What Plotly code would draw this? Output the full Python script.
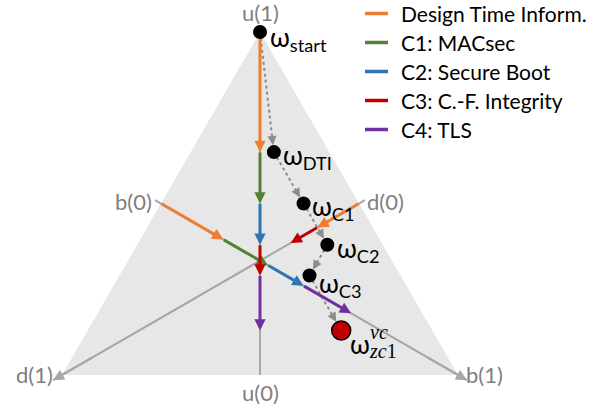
import math
import plotly.graph_objects as go

# ---------------- data ----------------
stages = ["start", "DTI", "C1", "C2", "C3", "zc1"]
belief = [0.00, 0.21, 0.36, 0.48, 0.48, 0.64]
disbelief = [0.00, 0.14, 0.14, 0.14, 0.23, 0.23]
uncertainty = [1.00, 0.65, 0.50, 0.38, 0.29, 0.13]

series_names = ["Design Time Inform.", "C1: MACsec", "C2: Secure Boot",
                "C3: C.-F. Integrity", "C4: TLS"]
series_colors = ["#ED7D31", "#548235", "#2E75B6", "#C00000", "#7030A0"]

point_labels = ["ω<sub>start</sub>", "ω<sub>DTI</sub>", "ω<sub>C1</sub>",
                "ω<sub>C2</sub>", "ω<sub>C3</sub>", "ω"]
axis_names = ["u", "b", "d"]

# ---------------- geometry ----------------
W, HPX = 602, 409
X0, Y0, S = 62, 375, 396       # pixel placement of the unit triangle
H = math.sqrt(3) / 2
V = {"d1": (0.0, 0.0), "b1": (1.0, 0.0), "u1": (0.5, H)}
AX = {
    "u": ((0.5, 0.0), V["u1"]),
    "b": (((V["d1"][0] + V["u1"][0]) / 2, (V["d1"][1] + V["u1"][1]) / 2), V["b1"]),
    "d": (((V["b1"][0] + V["u1"][0]) / 2, (V["b1"][1] + V["u1"][1]) / 2), V["d1"]),
}


def axis_pt(a, t):
    (x0, y0), (x1, y1) = AX[a]
    return x0 + t * (x1 - x0), y0 + t * (y1 - y0)


def opinion_xy(b, d, u):
    s = b + d + u
    b, u = b / s, u / s
    return b + u / 2, u * H


vals = {"u": uncertainty, "b": belief, "d": disbelief}
pts = [opinion_xy(b, d, u) for b, d, u in zip(belief, disbelief, uncertainty)]

GRAY = "#A6A6A6"
LABEL_GRAY = "#7F7F7F"
FONT = "Lato"

fig = go.Figure()

# triangle background
fig.add_shape(type="path",
              path="M {} {} L {} {} L {} {} Z".format(*V["d1"], *V["b1"], *V["u1"]),
              fillcolor="#E7E7E7", line=dict(width=0), layer="below")

# gray axes
for a in axis_names:
    t0 = 0.0 if a == "u" else -0.02
    t1 = 1.0 if a == "u" else 1.03
    p0, p1 = axis_pt(a, t0), axis_pt(a, t1)
    fig.add_trace(go.Scatter(x=[p0[0], p1[0]], y=[p0[1], p1[1]], mode="lines",
                             line=dict(color=GRAY, width=2), hoverinfo="skip",
                             showlegend=False))

# dotted connections between opinions
for k in range(1, len(pts)):
    fig.add_trace(go.Scatter(x=[pts[k - 1][0], pts[k][0]], y=[pts[k - 1][1], pts[k][1]],
                             mode="lines", line=dict(color="#8C8C8C", width=2, dash="dot"),
                             hoverinfo="skip", showlegend=False))

# opinion points
fig.add_trace(go.Scatter(x=[p[0] for p in pts[:-1]], y=[p[1] for p in pts[:-1]],
                         mode="markers", marker=dict(color="black", size=14),
                         hoverinfo="skip", showlegend=False))
fig.add_trace(go.Scatter(x=[pts[-1][0]], y=[pts[-1][1]], mode="markers",
                         marker=dict(color="#C00000", size=19,
                                     line=dict(color="black", width=1.5)),
                         hoverinfo="skip", showlegend=False))

ann = []
# axis arrowheads at b(1), d(1)
for a in ["b", "d"]:
    p0, p1 = axis_pt(a, 0.9), axis_pt(a, 1.03)
    ann.append(dict(x=p1[0], y=p1[1], ax=p0[0], ay=p0[1], xref="x", yref="y",
                    axref="x", ayref="y", text="", showarrow=True, arrowhead=2,
                    arrowsize=1.1, arrowwidth=2, arrowcolor=GRAY, borderpad=0))

# dotted arrow heads
for k in range(1, len(pts)):
    (xa, ya), (xb, yb) = pts[k - 1], pts[k]
    dist = math.hypot(xb - xa, yb - ya) * S
    rad = 10 if k == len(pts) - 1 else 7
    f = min(1.0, (rad + 9) / dist)
    ann.append(dict(x=xb, y=yb, ax=xb - (xb - xa) * f, ay=yb - (yb - ya) * f,
                    xref="x", yref="y", axref="x", ayref="y", text="",
                    showarrow=True, arrowhead=2, arrowsize=1.4, arrowwidth=1.3,
                    arrowcolor="#8C8C8C", standoff=rad, borderpad=0))

# coloured projection arrows
for k in range(1, len(stages)):
    col = series_colors[k - 1]
    for a in axis_names:
        v0, v1 = vals[a][k - 1], vals[a][k]
        if abs(v1 - v0) < 1e-9:
            continue
        p0, p1 = axis_pt(a, v0), axis_pt(a, v1)
        ann.append(dict(x=p1[0], y=p1[1], ax=p0[0], ay=p0[1], xref="x", yref="y",
                        axref="x", ayref="y", text="", showarrow=True, arrowhead=2,
                        arrowsize=0.75, arrowwidth=3, arrowcolor=col, borderpad=0,
                        startstandoff=7 if (k == 1 and v0 == 1.0) else 0))

# axis labels
lab_font = dict(family=FONT, size=22, color=LABEL_GRAY)
ax_lab = [
    ("u(1)", axis_pt("u", 1), "center", "middle", 0, 20),
    ("u(0)", axis_pt("u", 0), "center", "middle", 0, -17),
    ("b(0)", axis_pt("b", 0), "right", "middle", -8, 2),
    ("b(1)", V["b1"], "left", "middle", 7, 1),
    ("d(0)", axis_pt("d", 0), "left", "middle", 7, 2),
    ("d(1)", V["d1"], "right", "middle", -8, 1),
]
for txt, (x, y), xa, ya, xs, ys in ax_lab:
    ann.append(dict(x=x, y=y, xref="x", yref="y", text=txt, showarrow=False,
                    xanchor=xa, yanchor=ya, xshift=xs, yshift=ys, font=lab_font,
                    borderpad=0))

# opinion labels
om_font = dict(family=FONT, size=26, color="black")
shifts = [(9, -6), (8, -4), (7, -4), (9, -5), (8, -9), (8, -14)]
for (x, y), txt, (xs, ys) in zip(pts, point_labels, shifts):
    ann.append(dict(x=x, y=y, xref="x", yref="y", text=txt, showarrow=False,
                    xanchor="left", yanchor="middle", xshift=xs, yshift=ys,
                    font=om_font, borderpad=0))
xz, yz = pts[-1]
math_font = dict(family="Liberation Serif", size=20, color="black")
ann.append(dict(x=xz, y=yz, xref="x", yref="y", text="<i>zc</i>1", showarrow=False,
                xanchor="left", yanchor="middle", xshift=27, yshift=-21,
                font=math_font, borderpad=0))
ann.append(dict(x=xz, y=yz, xref="x", yref="y", text="<i>vc</i>", showarrow=False,
                xanchor="left", yanchor="middle", xshift=28, yshift=-2,
                font=math_font, borderpad=0))

# manual legend
leg_font = dict(family=FONT, size=21, color="black")
for i, (name, col) in enumerate(zip(series_names, series_colors)):
    yp = 13.5 + i * 29
    fig.add_shape(type="line", xref="paper", yref="paper",
                  x0=365 / W, x1=388 / W, y0=1 - yp / HPX, y1=1 - yp / HPX,
                  line=dict(color=col, width=3.5))
    ann.append(dict(x=400 / W, y=1 - yp / HPX, xref="paper", yref="paper", text=name,
                    showarrow=False, xanchor="left", yanchor="middle",
                    font=leg_font, borderpad=0))

fig.update_layout(
    annotations=ann,
    width=W, height=HPX,
    margin=dict(l=0, r=0, t=0, b=0),
    paper_bgcolor="white", plot_bgcolor="white",
    xaxis=dict(range=[-X0 / S, (W - X0) / S], visible=False),
    yaxis=dict(range=[(Y0 - HPX) / S, Y0 / S], visible=False),
    showlegend=False,
)

fig.write_html("out.html",
               config={"displayModeBar": False},
               post_script="document.body.style.margin='0';"
                           "document.body.style.overflow='hidden';")
